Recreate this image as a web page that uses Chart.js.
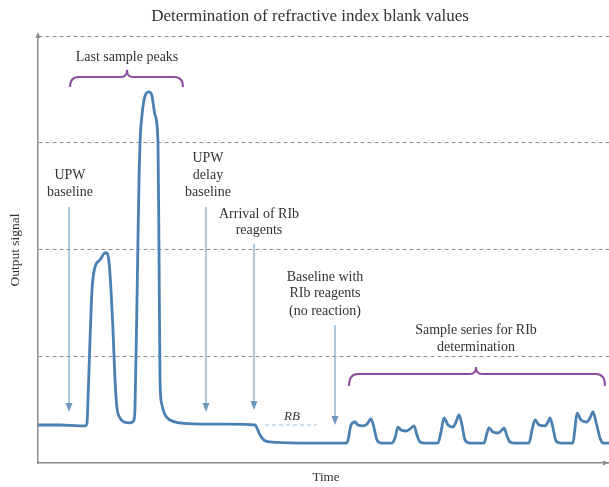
<!DOCTYPE html>
<html>
<head>
<meta charset="utf-8">
<script src="https://cdn.jsdelivr.net/npm/chart.js@4.4.0/dist/chart.umd.min.js"></script>
<style>
  html, body { margin: 0; padding: 0; background: #ffffff; }
  #c { display: block; }
</style>
</head>
<body>
<canvas id="c" width="609" height="487"></canvas>
<script>
// ---- Data (time units, signal units: dashed gridlines at 100, 200, 300, 400) ----
const timeValues = [
  0, 22, 42, 47, 49, 50, 52, 54, 57, 62, 67, 69, 71, 73, 75, 77, 79, 82, 86, 92,
  96, 97, 99, 101, 102, 104, 107, 111, 114, 117, 120, 121, 122, 124, 127, 132, 142, 162, 192, 217,
  219, 222, 226, 232, 262, 308,
  310, 313, 317, 320, 325, 329, 333, 336, 339, 343,
  354, 357, 360, 363, 368, 372, 376, 379, 382, 387,
  400, 403, 406, 410, 415, 418, 421, 424, 427, 432,
  446, 449, 451, 455, 460, 464, 466, 469, 472, 477,
  491, 494, 497, 501, 507, 510, 512, 515, 518, 523,
  535, 537, 539, 543, 549, 552, 555, 558, 562, 565, 571
];
const signalValues = [
  35.6, 35.6, 34.7, 34.7, 37.5, 59.0, 115.2, 162.1, 183.6, 190.2, 196.7, 196.7, 188.3, 162.1, 124.6, 77.8, 51.5, 42.2, 38.4, 37.5,
  40.3, 51.5, 152.7, 265.1, 300.0, 326.0, 343.8, 347.6, 343.8, 326.0, 300.0, 199.5, 77.8, 54.3, 45.0, 40.3, 37.5, 36.5, 36.5, 35.6,
  32.8, 26.2, 21.5, 19.7, 18.7, 18.7,
  21.5, 35.6, 38.4, 35.6, 34.7, 36.5, 41.2, 32.8, 21.5, 18.7,
  18.7, 23.4, 33.7, 30.9, 30.0, 31.9, 34.7, 26.2, 19.7, 18.7,
  18.7, 29.0, 42.2, 35.6, 33.7, 38.4, 45.0, 35.6, 21.5, 18.7,
  18.7, 28.1, 32.8, 29.0, 28.1, 30.9, 32.8, 25.3, 19.7, 18.7,
  18.7, 30.9, 40.3, 35.6, 34.7, 38.4, 42.2, 32.8, 20.6, 18.7,
  18.7, 32.8, 46.8, 40.3, 38.4, 42.2, 47.8, 38.4, 23.4, 18.7, 18.7
];
const gridLevels = [0, 100, 200, 300, 400];

const titleText = "Determination of refractive index blank values";
const xAxisTitle = "Time";
const yAxisTitle = "Output signal";

// ---- Annotations (in data units) ----
const textNotes = [
  { t: 89,  s: [380.3], lines: ["Last sample peaks"] },
  { t: 32,  s: [269.8, 253.9], lines: ["UPW", "baseline"] },
  { t: 170, s: [285.7, 269.8, 253.9], lines: ["UPW", "delay", "baseline"] },
  { t: 221, s: [233.3, 218.3], lines: ["Arrival of RIb", "reagents"] },
  { t: 287, s: [174.2, 159.3, 142.4], lines: ["Baseline with", "RIb reagents", "(no reaction)"] },
  { t: 438, s: [124.6, 108.7], lines: ["Sample series for RIb", "determination"] }
];
const arrowNotes = [
  { t: 31,  from: 239.8, to: 47.8 },
  { t: 168, from: 239.8, to: 47.8 },
  { t: 216, from: 205.2, to: 49.7 },
  { t: 297, from: 129.3, to: 35.6 }
];
const braceNotes = [
  { t0: 32,  t1: 145, tc: 89,  sEnd: 352.2, sTop: 361.6, sCusp: 368.5 },
  { t0: 311, t1: 567, tc: 438, sEnd: 72.1,  sTop: 83.4,  sCusp: 90.0 }
];
const rbNote = { t0: 227, t1: 279, s: 35.6, label: "RB", tLabel: 254, sLabel: 43.1 };

const points = timeValues.map((t, i) => ({ x: t, y: signalValues[i] }));

const SERIF = '"Liberation Serif", "DejaVu Serif", "Times New Roman", serif';
const TEXT_COLOR = '#333333';
const AXIS_COLOR = '#8c8c8c';

const annotationPlugin = {
  id: 'annotations',
  afterDraw(chart) {
    const { ctx, scales: { x, y }, chartArea } = chart;
    const px = v => x.getPixelForValue(v);
    const py = v => y.getPixelForValue(v);
    ctx.save();

    // Axis arrowheads
    ctx.fillStyle = AXIS_COLOR;
    ctx.beginPath();
    ctx.moveTo(chartArea.left, chartArea.top - 4);
    ctx.lineTo(chartArea.left - 2.5, chartArea.top + 2);
    ctx.lineTo(chartArea.left + 2.5, chartArea.top + 2);
    ctx.closePath(); ctx.fill();
    ctx.strokeStyle = AXIS_COLOR; ctx.lineWidth = 1.5;
    ctx.beginPath(); ctx.moveTo(chartArea.left, chartArea.top); ctx.lineTo(chartArea.left, chartArea.top - 2); ctx.stroke();
    ctx.beginPath();
    ctx.moveTo(chartArea.right, chartArea.bottom);
    ctx.lineTo(chartArea.right - 6, chartArea.bottom - 2.5);
    ctx.lineTo(chartArea.right - 6, chartArea.bottom + 2.5);
    ctx.closePath(); ctx.fill();

    // Title and axis titles
    ctx.fillStyle = TEXT_COLOR;
    ctx.textAlign = 'center';
    ctx.textBaseline = 'middle';
    ctx.font = '17px ' + SERIF;
    ctx.fillText(titleText, 310, 17);
    ctx.font = '13px ' + SERIF;
    ctx.fillText(xAxisTitle, 326, 478);
    ctx.save();
    ctx.translate(15, 250);
    ctx.rotate(-Math.PI / 2);
    ctx.font = '13.5px ' + SERIF;
    ctx.fillText(yAxisTitle, 0, 0);
    ctx.restore();

    // Text notes
    ctx.font = '14px ' + SERIF;
    textNotes.forEach(n => {
      n.lines.forEach((line, i) => ctx.fillText(line, px(n.t), py(n.s[i])));
    });

    // Arrows
    ctx.strokeStyle = '#7ea6c8';
    ctx.fillStyle = '#6d97bd';
    ctx.lineWidth = 1.2;
    arrowNotes.forEach(a => {
      const X = px(a.t), Y0 = py(a.from), Y1 = py(a.to);
      ctx.beginPath(); ctx.moveTo(X, Y0); ctx.lineTo(X, Y1 - 6); ctx.stroke();
      ctx.beginPath();
      ctx.moveTo(X, Y1);
      ctx.lineTo(X - 3.5, Y1 - 9);
      ctx.lineTo(X + 3.5, Y1 - 9);
      ctx.closePath(); ctx.fill();
    });

    // Braces
    ctx.strokeStyle = '#8e4d9f';
    ctx.lineWidth = 2;
    braceNotes.forEach(b => {
      const x0 = px(b.t0), x1 = px(b.t1), xc = px(b.tc);
      const yE = py(b.sEnd), yT = py(b.sTop), yC = py(b.sCusp);
      const r = 9, r2 = 6;
      ctx.beginPath();
      ctx.moveTo(x0, yE);
      ctx.quadraticCurveTo(x0, yT, x0 + r, yT);
      ctx.lineTo(xc - r2, yT);
      ctx.quadraticCurveTo(xc, yT, xc, yC);
      ctx.quadraticCurveTo(xc, yT, xc + r2, yT);
      ctx.lineTo(x1 - r, yT);
      ctx.quadraticCurveTo(x1, yT, x1, yE);
      ctx.stroke();
    });

    // RB dashed marker
    ctx.strokeStyle = '#9cc0de';
    ctx.lineWidth = 1;
    ctx.setLineDash([4, 3]);
    ctx.beginPath();
    ctx.moveTo(px(rbNote.t0), py(rbNote.s));
    ctx.lineTo(px(rbNote.t1), py(rbNote.s));
    ctx.stroke();
    ctx.setLineDash([]);
    ctx.fillStyle = TEXT_COLOR;
    ctx.font = 'italic 13px ' + SERIF;
    ctx.fillText(rbNote.label, px(rbNote.tLabel), py(rbNote.sLabel));

    ctx.restore();
  }
};

new Chart(document.getElementById('c'), {
  type: 'line',
  data: {
    datasets: [{
      data: points,
      borderColor: '#4a80b2',
      borderWidth: 2.8,
      pointRadius: 0,
      fill: false,
      cubicInterpolationMode: 'monotone',
      clip: false
    }]
  },
  options: {
    responsive: false,
    devicePixelRatio: 1,
    animation: false,
    layout: { padding: { left: 38, right: 0, top: 36, bottom: 24 } },
    plugins: { legend: { display: false }, tooltip: { enabled: false }, title: { display: false } },
    scales: {
      x: {
        type: 'linear', min: 0, max: 571,
        ticks: { display: false },
        grid: { display: false, drawTicks: false },
        border: { display: true, color: AXIS_COLOR, width: 1.5 }
      },
      y: {
        type: 'linear', min: gridLevels[0], max: gridLevels[gridLevels.length - 1],
        afterBuildTicks: axis => { axis.ticks = gridLevels.map(v => ({ value: v })); },
        ticks: { display: false },
        grid: {
          drawTicks: false,
          color: c => (c.tick && c.tick.value === 0) ? 'rgba(0,0,0,0)' : '#8f8f8f',
          lineWidth: 1
        },
        border: { display: true, color: AXIS_COLOR, width: 1.5, dash: [4, 3] }
      }
    }
  },
  plugins: [annotationPlugin]
});
</script>
</body>
</html>
